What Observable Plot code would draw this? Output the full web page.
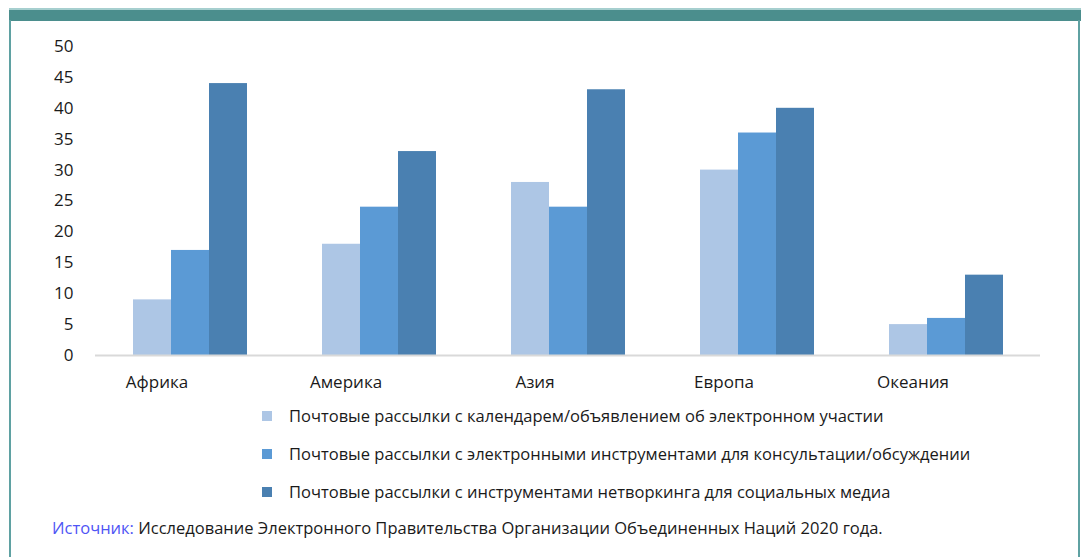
<!DOCTYPE html>
<html>
<head>
<meta charset="utf-8">
<script src="https://cdn.jsdelivr.net/npm/d3@7"></script>
<script src="https://cdn.jsdelivr.net/npm/@observablehq/plot@0.6"></script>
<style>
  html, body { margin: 0; padding: 0; background: #ffffff; }
  #wrap { position: relative; width: 1081px; height: 557px; overflow: hidden; background: #fff; font-family: "Open Sans", "Noto Sans", sans-serif; color: #1a1a1a; }
  #topbar { position: absolute; left: 9px; top: 8px; width: 1072px; height: 11px; background: #4b8e8d; border-top: 2px solid #a6cfcf; }
  .side { position: absolute; top: 20px; width: 2px; height: 537px; background: #5fa1a2; }
  #chart { position: absolute; left: 0; top: 0; }
  #legend { position: absolute; left: 262px; top: 404px; }
  .row { position: relative; height: 38px; }
  .sw { position: absolute; left: 0; top: 7px; width: 10px; height: 10px; }
  .lt { position: absolute; left: 27px; top: 1px; font-size: 16.5px; white-space: nowrap; line-height: 22px; }
  #source { position: absolute; left: 52px; top: 517px; font-size: 16.5px; white-space: nowrap; line-height: 22px; }
  #source .lbl { color: #4f55f5; }
</style>
</head>
<body>
<div id="wrap">
  <div id="topbar"></div>
  <div class="side" style="left:9px"></div>
  <div class="side" style="left:1078px"></div>
  <div id="chart"></div>
  <div id="legend"></div>
  <div id="source"><span class="lbl">Источник:</span> Исследование Электронного Правительства Организации Объединенных Наций 2020 года.</div>
</div>
<script>
const regions = ["Африка", "Америка", "Азия", "Европа", "Океания"];
const seriesNames = [
  "Почтовые рассылки с календарем/объявлением об электронном участии",
  "Почтовые рассылки с электронными инструментами для консультации/обсуждении",
  "Почтовые рассылки с инструментами нетворкинга для социальных медиа"
];
const calendarValues = [9, 18, 28, 30, 5];
const consultationValues = [17, 24, 24, 36, 6];
const networkingValues = [44, 33, 43, 40, 13];
const yTicks = [0, 5, 10, 15, 20, 25, 30, 35, 40, 45, 50];
const colors = ["#adc6e5", "#5b9ad5", "#4a80b1"];

const seriesValues = [calendarValues, consultationValues, networkingValues];
const data = regions.flatMap((r, i) =>
  seriesNames.map((s, j) => ({region: r, series: s, value: seriesValues[j][i]}))
);

const chart = Plot.plot({
  width: 1081,
  height: 400,
  marginLeft: 93,
  marginRight: 39,
  marginTop: 46,
  marginBottom: 45,
  style: {fontFamily: "'Open Sans', 'Noto Sans', sans-serif", fontSize: "17px", color: "#1a1a1a", background: "transparent"},
  fx: {domain: regions, paddingInner: 0.39, paddingOuter: 0.195, label: null},
  x: {domain: seriesNames, padding: 0, axis: null},
  y: {domain: [0, 50], axis: null},
  color: {domain: seriesNames, range: colors},
  marks: [
    Plot.barY(data, {fx: "region", x: "series", y: "value", fill: "series"}),
    Plot.ruleY([0], {stroke: "#d9d9d9", strokeWidth: 2, insetLeft: -37, insetRight: -37}),
    Plot.axisY({ticks: yTicks, tickSize: 0, tickPadding: 59, label: null, fontSize: 17}),
    Plot.axisFx({anchor: "bottom", tickSize: 0, tickPadding: 20, dx: -33, label: null, fontSize: 17})
  ]
});
document.getElementById("chart").appendChild(chart);

const legend = document.getElementById("legend");
seriesNames.forEach((s, i) => {
  const row = document.createElement("div");
  row.className = "row";
  const sw = document.createElement("div");
  sw.className = "sw";
  sw.style.background = colors[i];
  const t = document.createElement("div");
  t.className = "lt";
  t.textContent = s;
  row.appendChild(sw);
  row.appendChild(t);
  legend.appendChild(row);
});
</script>
</body>
</html>
